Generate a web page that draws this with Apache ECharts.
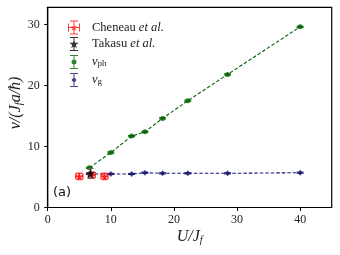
<!DOCTYPE html>
<html><head><meta charset="utf-8">
<script src="https://cdn.jsdelivr.net/npm/echarts@6/dist/echarts.min.js"></script>
<style>html,body{margin:0;padding:0;background:#fff}#c{width:340px;height:255px}</style>
</head><body><div id="c"></div>
<script>
// ---- data ----
const U_ph = [6.6, 10.0, 13.3, 15.4, 18.2, 22.2, 28.5, 40.0];
const v_ph = [6.5, 9.0, 11.7, 12.4, 14.6, 17.5, 21.8, 29.6];
const v_ph_err = [0.1, 0.1, 0.1, 0.1, 0.1, 0.1, 0.1, 0.1];
const U_g = [6.6, 10.0, 13.3, 15.4, 18.2, 22.2, 28.5, 40.0];
const v_g = [5.5, 5.5, 5.5, 5.7, 5.6, 5.6, 5.6, 5.7];
const v_g_err = [0.1, 0.1, 0.1, 0.1, 0.1, 0.1, 0.1, 0.1];
const U_chen = [5.0, 7.0, 9.0];
const v_chen = [5.1, 5.3, 5.1];
const U_chen_err = [0.55, 0.55, 0.55];
const v_chen_err = [0.5, 0.5, 0.5];
const U_tak = [6.8];
const v_tak = [5.6];
const v_tak_err = [0.8];
const xTicks = [0, 10, 20, 30, 40];
const yTicks = [0, 10, 20, 30];

const GREEN = '#006400', BLUE = '#191970', RED = '#ff1a1a';
const STAR = 'path://M50,0 L61,35 L98,35 L68,57 L79,91 L50,70 L21,91 L32,57 L2,35 L39,35 Z';

function pairs(xs, ys) { return xs.map((x, i) => [x, ys[i]]); }
function errData(xs, ys, xe, ye) { return xs.map((x, i) => [x, ys[i], xe ? xe[i] : 0, ye ? ye[i] : 0]); }

function errRender(color, cap, lw) {
  return function (params, api) {
    const x = api.value(0), y = api.value(1), xe = api.value(2), ye = api.value(3);
    const ch = [];
    const st = { stroke: color, lineWidth: lw };
    if (ye > 0) {
      const a = api.coord([x, y - ye]), b = api.coord([x, y + ye]);
      ch.push({ type: 'line', shape: { x1: a[0], y1: a[1], x2: b[0], y2: b[1] }, style: st });
      ch.push({ type: 'line', shape: { x1: a[0] - cap, y1: a[1], x2: a[0] + cap, y2: a[1] }, style: st });
      ch.push({ type: 'line', shape: { x1: b[0] - cap, y1: b[1], x2: b[0] + cap, y2: b[1] }, style: st });
    }
    if (xe > 0) {
      const a = api.coord([x - xe, y]), b = api.coord([x + xe, y]);
      ch.push({ type: 'line', shape: { x1: a[0], y1: a[1], x2: b[0], y2: b[1] }, style: st });
      ch.push({ type: 'line', shape: { x1: a[0], y1: a[1] - cap, x2: a[0], y2: a[1] + cap }, style: st });
      ch.push({ type: 'line', shape: { x1: b[0], y1: b[1] - cap, x2: b[0], y2: b[1] + cap }, style: st });
    }
    return { type: 'group', children: ch };
  };
}

// legend icons (error-bar glyphs), boxes 12x14
const ICON_DOT = 'path://M5.5,1 h1 v12 h-1 Z M2,0 h8 v1 h-8 Z M2,13 h8 v1 h-8 Z M3.5,7 A2.5,2.5 0 1 1 8.5,7 A2.5,2.5 0 1 1 3.5,7 Z';
const ICON_DIA = 'path://M5.5,1 h1 v12 h-1 Z M2,0 h8 v1 h-8 Z M2,13 h8 v1 h-8 Z M6,4 L8.5,7 L6,10 L3.5,7 Z';
const ICON_STAR = 'path://M5.5,1 h1 v12 h-1 Z M2,0 h8 v1 h-8 Z M2,13 h8 v1 h-8 Z M6,2.5 L7.1,5.8 L10.6,5.8 L7.8,7.9 L8.8,11.2 L6,9.2 L3.2,11.2 L4.2,7.9 L1.4,5.8 L4.9,5.8 Z';
const ICON_RED = 'path://M5.5,1 h1 v12 h-1 Z M2,0 h8 v1 h-8 Z M2,13 h8 v1 h-8 Z M0,6.5 h12 v1 h-12 Z M0,3 h1 v8 h-1 Z M11,3 h1 v8 h-1 Z M6,3.5 L6.9,6 L9.5,6 L7.4,7.6 L8.2,10.2 L6,8.6 L3.8,10.2 L4.6,7.6 L2.5,6 L5.1,6 Z';

const serif = '"Liberation Serif", "DejaVu Serif", serif';
const nameRich = {
  i: { fontFamily: serif, fontStyle: 'italic', fontSize: 16, color: '#222', lineHeight: 17, verticalAlign: 'top' },
  s: { fontFamily: serif, fontStyle: 'italic', fontSize: 10.5, color: '#222', lineHeight: 10, padding: [8, 0, 0, 0], verticalAlign: 'bottom' }
};
const chart = echarts.init(document.getElementById('c'), null, { renderer: 'canvas' });
chart.setOption({
  animation: false,
  backgroundColor: '#fff',
  grid: { left: 47.7, right: 8.3, top: 7.3, bottom: 47.5, show: true, borderColor: '#000', borderWidth: 1.2,
    backgroundColor: 'transparent', containLabel: false, outerBoundsMode: 'none' },
  xAxis: {
    type: 'value', min: 0, max: 45, interval: 10,
    axisLine: { lineStyle: { color: '#000', width: 1.2 } },
    axisTick: { show: true, inside: false, length: 3.5, lineStyle: { color: '#000' }, customValues: xTicks },
    splitLine: { show: false },
    axisLabel: { color: '#222', fontFamily: serif, fontSize: 12, margin: 6, customValues: xTicks },
    name: '{i|U/J}{s|f}', nameLocation: 'middle', nameGap: 21, nameMoveOverlap: false,
    nameTextStyle: { rich: nameRich }
  },
  yAxis: {
    type: 'value', min: 0, max: 32.8, interval: 10,
    axisLine: { lineStyle: { color: '#000', width: 1.2 } },
    axisTick: { show: true, inside: false, length: 3.5, lineStyle: { color: '#000' }, customValues: yTicks },
    splitLine: { show: false },
    axisLabel: { color: '#222', fontFamily: serif, fontSize: 12, margin: 8, customValues: yTicks },
    name: '{i|v/(J}{s|f}{i|a/ħ)}', nameLocation: 'middle', nameGap: 23, nameRotate: 90, nameMoveOverlap: false,
    nameTextStyle: { rich: nameRich, padding: [0, 0, 0, 9] }
  },
  legend: {
    left: 63, top: 15.5, orient: 'vertical', itemWidth: 12, itemHeight: 14, itemGap: 2.5,
    selectedMode: false,
    textStyle: { fontFamily: serif, fontSize: 12.5, color: '#222', padding: [0, 0, 0, 7],
      rich: {
        n: { fontFamily: serif, fontSize: 12.5, color: '#222' },
        it: { fontFamily: serif, fontSize: 12.5, fontStyle: 'italic', color: '#222' },
        v: { fontFamily: serif, fontSize: 12.5, fontStyle: 'italic', color: '#222', lineHeight: 13, verticalAlign: 'top' },
        sub: { fontFamily: serif, fontSize: 9, color: '#222', lineHeight: 9, padding: [6, 0, 0, 0], verticalAlign: 'bottom' }
      } },
    data: [
      { name: 'Cheneau', icon: ICON_RED, itemStyle: { color: RED, opacity: 0.85 } },
      { name: 'Takasu', icon: ICON_STAR, itemStyle: { color: '#000' } },
      { name: 'vph', icon: ICON_DOT, itemStyle: { color: GREEN } },
      { name: 'vg', icon: ICON_DIA, itemStyle: { color: BLUE } }
    ],
    formatter: function (n) {
      if (n === 'Cheneau') return '{n|Cheneau }{it|et al.}';
      if (n === 'Takasu') return '{n|Takasu }{it|et al.}';
      if (n === 'vph') return '{v|v}{sub|ph}';
      return '{v|v}{sub|g}';
    }
  },
  graphic: [{ type: 'text', left: 53, top: 186.5, z: 100,
    style: { text: '(a)', font: '13px "DejaVu Sans", sans-serif', fill: '#111' } }],
  series: [
    { name: 'vph-line', type: 'line', data: pairs(U_ph, v_ph), symbol: 'none', z: 1,
      lineStyle: { color: GREEN, width: 1.1, type: [3.5, 2] }, silent: true },
    { name: 'vg-line', type: 'line', data: pairs(U_g, v_g), symbol: 'none', z: 1,
      lineStyle: { color: BLUE, width: 1.1, type: [3.5, 2] }, silent: true },
    { name: 'vph-err', type: 'custom', z: 2, renderItem: errRender(GREEN, 3.5, 1), data: errData(U_ph, v_ph, null, v_ph_err), encode: { x: 0, y: 1 } },
    { name: 'vph', type: 'scatter', z: 3, data: pairs(U_ph, v_ph), symbol: 'circle', symbolSize: 5, itemStyle: { color: GREEN } },
    { name: 'vg-err', type: 'custom', z: 2, renderItem: errRender(BLUE, 3.5, 1), data: errData(U_g, v_g, null, v_g_err), encode: { x: 0, y: 1 } },
    { name: 'vg', type: 'scatter', z: 3, data: pairs(U_g, v_g), symbol: 'diamond', symbolSize: [5, 6], itemStyle: { color: BLUE } },
    { name: 'chen-err', type: 'custom', z: 4, renderItem: errRender('rgba(255,25,25,0.85)', 3, 1.5), data: errData(U_chen, v_chen, U_chen_err, v_chen_err), encode: { x: 0, y: 1 } },
    { name: 'Cheneau', type: 'scatter', z: 4, data: pairs(U_chen, v_chen), symbol: STAR, symbolSize: 8, itemStyle: { color: RED, opacity: 0.9 } },
    { name: 'tak-err', type: 'custom', z: 5, renderItem: errRender('#666', 3, 1.2), data: errData(U_tak, v_tak, null, v_tak_err), encode: { x: 0, y: 1 } },
    { name: 'Takasu', type: 'scatter', z: 6, data: pairs(U_tak, v_tak), symbol: STAR, symbolSize: 10, itemStyle: { color: '#000' } }
  ]
});
</script></body></html>
